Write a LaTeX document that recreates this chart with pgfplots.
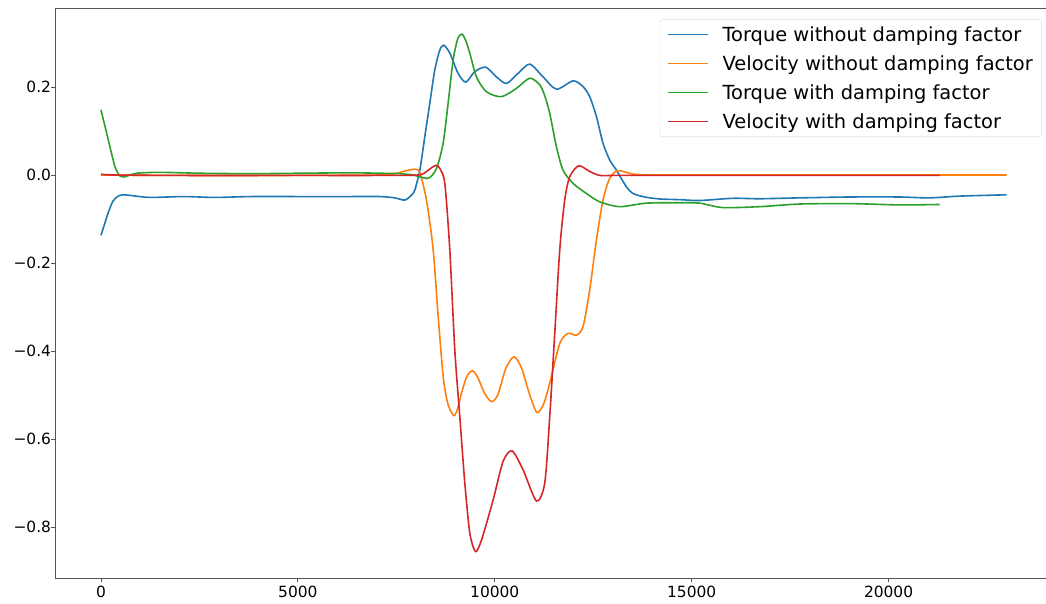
\documentclass[border=0pt]{standalone}
\usepackage{pgfplots}
\pgfplotsset{compat=1.18}
\usepackage{fontspec}
\setmainfont{DejaVu Sans}
\definecolor{tabblue}{HTML}{1F77B4}
\definecolor{taborange}{HTML}{FF7F0E}
\definecolor{tabgreen}{HTML}{2CA02C}
\definecolor{tabred}{HTML}{D62728}
\definecolor{spine}{HTML}{555555}
\begin{document}
\begin{tikzpicture}
\path[use as bounding box] (-55.7bp,-26bp) rectangle (990.3bp,578bp);
\begin{axis}[
  at={(0,0)}, anchor=south west,
  scale only axis,
  width=996.3bp, height=569.3bp,
  xmin=-1150, xmax=24150,
  ymin=-0.916, ymax=0.378,
  axis line style={spine, line width=1bp},
  tick style={spine, line width=0.9bp},
  tick align=outside,
  major tick length=4.5bp,
  xtick={0,5000,10000,15000,20000},
  xticklabels={0,5000,10000,15000,20000},
  ytick={-0.8,-0.6,-0.4,-0.2,0,0.2},
  yticklabels={−0.8,−0.6,−0.4,−0.2,0.0,0.2},
  xtick pos=bottom, ytick pos=left,
  ticklabel style={font=\fontsize{15.5}{18}\selectfont},
  yticklabel style={inner sep=0pt, xshift=0bp},
  xticklabel style={inner sep=0pt, yshift=-3.5bp},
  legend style={at={(0.99,0.982)}, anchor=north east,
    draw=black!18, rounded corners=3bp, fill=white,
    font=\fontsize{19.5}{22}\selectfont,
    inner xsep=7bp, inner ysep=5.2bp,
    row sep=8.8bp, /tikz/column sep=12bp},
  legend cell align=left,
  legend image code/.code={\draw[#1, line width=1.6bp] (0bp,0bp) -- (40bp,0bp);},
]
\addplot[tabblue, line width=1.6bp, smooth, tension=0.45] coordinates {
(0,-0.137) (90,-0.112) (178,-0.087) (300,-0.06) (420,-0.049) (551,-0.045)
(800,-0.047) (1244,-0.051) (2100,-0.049) (2900,-0.051) (3800,-0.049)
(5050,-0.049) (6320,-0.049) (7080,-0.049) (7462,-0.052) (7716,-0.057)
(7894,-0.045) (7970,-0.034) (8097,0.011) (8223,0.087) (8350,0.163)
(8477,0.239) (8604,0.284) (8706,0.295) (8858,0.277) (9069,0.231)
(9264,0.211) (9492,0.235) (9772,0.245) (10043,0.223) (10297,0.208)
(10591,0.231) (10888,0.252) (11226,0.223) (11566,0.195) (11988,0.214)
(12241,0.201) (12411,0.178) (12581,0.133) (12749,0.072) (12919,0.034)
(13089,0.011) (13343,-0.027) (13510,-0.042) (13807,-0.05) (14188,-0.0545)
(14695,-0.056) (15203,-0.058) (16040,-0.053) (16725,-0.054) (17741,-0.052)
(19010,-0.05) (20279,-0.05) (21040,-0.052) (21801,-0.048) (22995,-0.045)
};
\addlegendentry{Torque without damping factor}
\addplot[taborange, line width=1.6bp, smooth, tension=0.45] coordinates {
(0,0.0) (2000,-0.001) (5000,-0.001) (7080,0.0) (7462,0.003) (7716,0.009)
(7970,0.013) (8097,0.005) (8266,-0.057) (8436,-0.17) (8563,-0.322)
(8690,-0.458) (8808,-0.52) (8960,-0.547) (9061,-0.53) (9155,-0.496)
(9289,-0.458) (9434,-0.445) (9568,-0.46) (9746,-0.497) (9916,-0.515)
(10076,-0.5) (10279,-0.44) (10490,-0.413) (10685,-0.44) (10888,-0.5)
(11073,-0.540) (11243,-0.52) (11396,-0.473) (11650,-0.383) (11860,-0.36)
(12073,-0.364) (12241,-0.345) (12411,-0.261) (12581,-0.148) (12749,-0.057)
(12919,-0.0075) (13130,0.010) (13510,0.002) (13934,0.0) (14500,0.0)
(16000,0.0) (18000,0.0) (22995,0.0)
};
\addlegendentry{Velocity without damping factor}
\addplot[tabgreen, line width=1.6bp, smooth, tension=0.45] coordinates {
(0,0.148) (185,0.080) (355,0.019) (482,-0.002) (609,-0.004) (906,0.004)
(1497,0.006) (2513,0.004) (3800,0.003) (5050,0.004) (6320,0.005)
(7080,0.004) (7589,0.003) (7919,0.0) (8307,-0.0075) (8520,0.015)
(8688,0.072) (8815,0.163) (8942,0.261) (9061,0.31) (9170,0.320)
(9264,0.305) (9366,0.277) (9535,0.223) (9789,0.189) (10170,0.178)
(10551,0.197) (10888,0.220) (11142,0.205) (11269,0.18) (11396,0.140)
(11566,0.064) (11733,0.011) (11987,-0.019) (12327,-0.042) (12665,-0.061)
(13172,-0.072) (13850,-0.064) (14695,-0.063) (15203,-0.064) (15787,-0.074)
(16725,-0.072) (17741,-0.066) (19010,-0.065) (20279,-0.068) (21294,-0.067)
};
\addlegendentry{Torque with damping factor}
\addplot[tabred, line width=1.6bp, smooth, tension=0.45] coordinates {
(0,0.002) (300,0.0) (2000,-0.001) (5000,-0.001) (7000,-0.001)
(8053,0.0) (8266,0.008) (8401,0.017) (8520,0.022) (8604,0.015)
(8731,-0.019) (8858,-0.17) (8985,-0.398) (9112,-0.549) (9239,-0.70)
(9366,-0.814) (9510,-0.856) (9662,-0.83) (9957,-0.739) (10211,-0.651)
(10439,-0.627) (10718,-0.67) (11058,-0.741) (11269,-0.70) (11396,-0.549)
(11523,-0.36) (11650,-0.17) (11776,-0.057) (11903,-0.004) (12132,0.021)
(12411,0.008) (12665,-0.001) (13000,-0.001) (13600,-0.001) (14500,-0.001)
(16000,-0.001) (21294,-0.001)
};
\addlegendentry{Velocity with damping factor}
\end{axis}
\end{tikzpicture}
\end{document}
